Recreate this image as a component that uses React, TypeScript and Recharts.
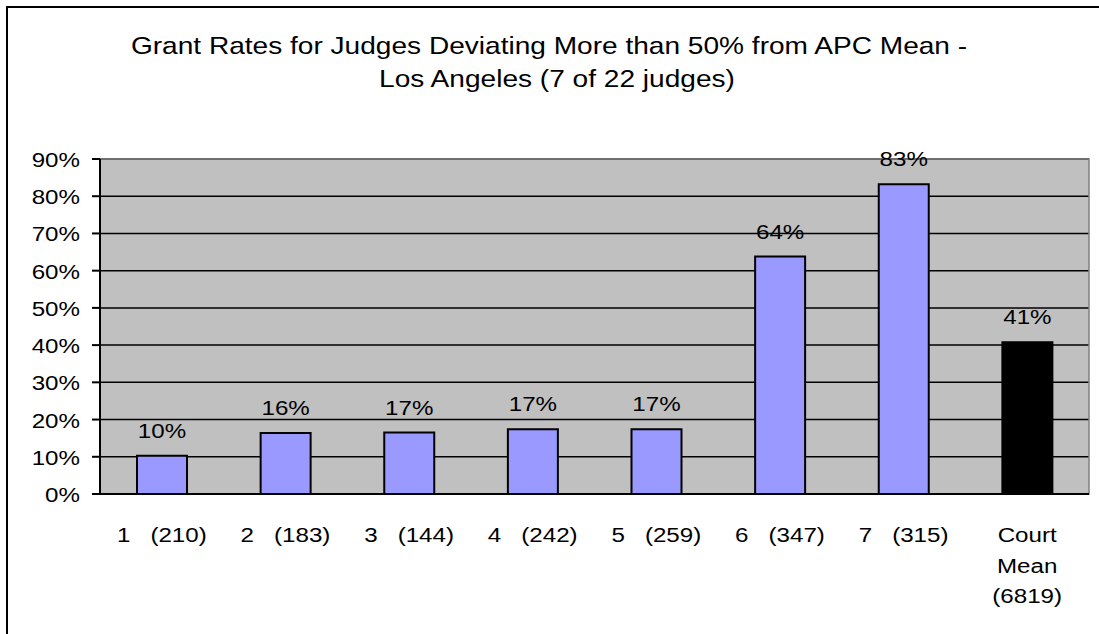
import React from "react"
import {
  BarChart,
  Bar,
  XAxis,
  YAxis,
  CartesianGrid,
  ReferenceArea,
  LabelList,
  Cell,
} from "recharts"

// judge number, number of cases and grant rate (%) per bar
const judges = ["1", "2", "3", "4", "5", "6", "7", "Court Mean"]
const cases = [210, 183, 144, 242, 259, 347, 315, 6819]
const rates = [10.3, 16.4, 16.5, 17.4, 17.4, 63.8, 83.2, 40.8]
const yTicks = [0, 10, 20, 30, 40, 50, 60, 70, 80, 90]
const titleLines = [
  "Grant Rates for Judges Deviating More than 50% from APC Mean -",
  "Los Angeles (7 of 22 judges)",
]

const data = judges.map((judge, i) => ({ judge, cases: cases[i], rate: rates[i] }))
const boundaryTicks = judges.map((_, i) => i).concat(judges.length)

const FONT = "'Liberation Sans', Arial, sans-serif"
const STRETCH = 1.15

function tickLines(judge: string, n: number) {
  if (judge === "Court Mean") return ["Court", "Mean", `(${n})`]
  return [`${judge}   (${n})`]
}

// eslint-disable-next-line @typescript-eslint/no-explicit-any
function XTick({ x, y, payload, index }: any) {
  const row = data[index] ?? data.find((d) => d.judge === payload.value)
  const lines = tickLines(payload.value, row ? row.cases : 0)
  return (
    <g>
      {lines.map((line, i) => (
        <text
          key={i}
          transform={`translate(${x},${y + 48 + i * 30.5}) scale(${STRETCH},1)`}
          textAnchor="middle"
          fontSize={21}
          fontFamily={FONT}
          fill="#000"
          xmlSpace="preserve"
          style={{ whiteSpace: "pre" }}
        >
          {line}
        </text>
      ))}
    </g>
  )
}

// eslint-disable-next-line @typescript-eslint/no-explicit-any
function YTick({ x, y, payload }: any) {
  return (
    <text
      transform={`translate(${x},${y + 8}) scale(${STRETCH},1)`}
      textAnchor="end"
      fontSize={21}
      fontFamily={FONT}
      fill="#000"
    >
      {payload.value}%
    </text>
  )
}

// eslint-disable-next-line @typescript-eslint/no-explicit-any
function BarLabel({ x, y, width, value }: any) {
  return (
    <text
      transform={`translate(${Number(x) + Number(width) / 2},${Number(y) - 18}) scale(${STRETCH},1)`}
      textAnchor="middle"
      fontSize={21}
      fontFamily={FONT}
      fill="#000"
    >
      {Math.round(Number(value))}%
    </text>
  )
}

export default function App() {
  return (
    <div
      style={{
        position: "fixed",
        left: 0,
        top: 0,
        width: 1099,
        height: 634,
        overflow: "hidden",
        background: "#fff",
      }}
    >
      <div
        style={{
          position: "absolute",
          left: 6,
          top: 6,
          width: 1200,
          height: 700,
          border: "2px solid #000",
        }}
      />
      <div style={{ position: "absolute", left: 0, top: 0 }}>
        <BarChart
          width={1099}
          height={634}
          data={data}
          margin={{ top: 159, right: 10, bottom: 0, left: 0 }}
        >
          <CartesianGrid
            vertical={false}
            stroke="#000"
            strokeWidth={1.5}
            fill="#C0C0C0"
            fillOpacity={1}
            xAxisId="cat"
          />
          <XAxis
            xAxisId="bounds"
            type="number"
            domain={[0, judges.length]}
            ticks={boundaryTicks}
            tick={false}
            axisLine={false}
            tickLine={{ stroke: "#000", strokeWidth: 2 }}
            tickSize={8}
            height={0}
            allowDataOverflow
          />
          <XAxis
            xAxisId="cat"
            dataKey="judge"
            interval={0}
            height={140}
            tickSize={0}
            tickMargin={0}
            tickLine={false}
            axisLine={{ stroke: "#000", strokeWidth: 2 }}
            tick={<XTick />}
          />
          <YAxis
            width={100}
            domain={[0, 90]}
            ticks={yTicks}
            interval={0}
            tickSize={8}
            tickMargin={12}
            axisLine={{ stroke: "#000", strokeWidth: 2 }}
            tickLine={{ stroke: "#000", strokeWidth: 2 }}
            tick={<YTick />}
          />
          <ReferenceArea
            xAxisId="cat"
            y1={0}
            y2={90}
            fill="none"
            stroke="#808080"
            strokeWidth={1.5}
            ifOverflow="visible"
          />
          <Bar
            xAxisId="cat"
            dataKey="rate"
            barSize={50}
            stroke="#000"
            strokeWidth={2}
            isAnimationActive={false}
          >
            {data.map((d, i) => (
              <Cell key={d.judge} fill={i === data.length - 1 ? "#000" : "#9999FF"} />
            ))}
            <LabelList dataKey="rate" content={<BarLabel />} />
          </Bar>
        </BarChart>
      </div>
      <svg
        width={1099}
        height={120}
        style={{ position: "absolute", left: 0, top: 0, pointerEvents: "none" }}
      >
        {titleLines.map((line, i) => (
          <text
            key={i}
            transform={`translate(${i === 0 ? 549 : 557},${54 + i * 33}) scale(1.17,1)`}
            textAnchor="middle"
            fontSize={24}
            fontFamily={FONT}
            fill="#000"
          >
            {line}
          </text>
        ))}
      </svg>
    </div>
  )
}
